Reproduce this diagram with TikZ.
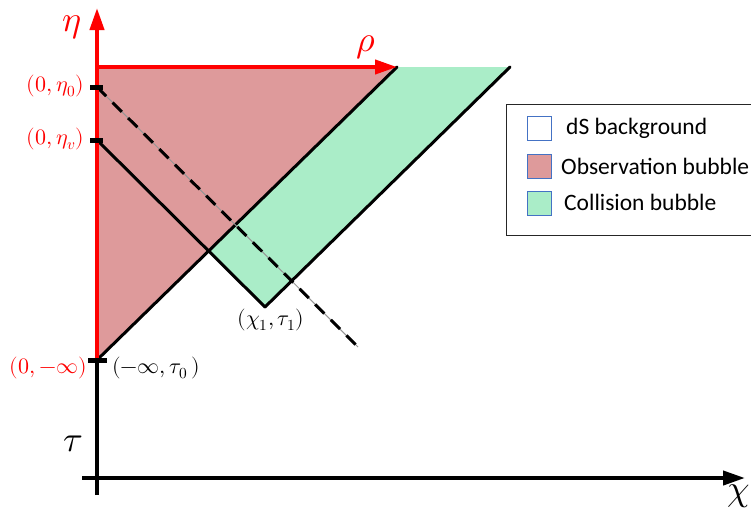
\documentclass[tikz,border=0pt]{standalone}
\usepackage{fontspec}
\usepackage{unicode-math}
\setmainfont{Carlito}
\setmathfont{Latin Modern Math}
\usetikzlibrary{arrows.meta,positioning}
\definecolor{obsred}{RGB}{222,154,155}
\definecolor{colgreen}{RGB}{170,237,200}
\definecolor{keyblue}{RGB}{68,114,196}
\definecolor{raygray}{RGB}{150,150,150}
\tikzset{
  axisarrow/.style={line width=4pt, -{Triangle[length=22pt,width=14pt]}},
  axisline/.style={line width=4pt},
  worldline/.style={line width=3pt, line cap=round},
  nullray/.style={line width=3pt, dash pattern=on 13pt off 9pt},
  tickbar/.style={line width=5pt},
  keybox/.style={draw=keyblue, line width=0.8pt, minimum size=24pt, inner sep=0pt},
  keytext/.style={anchor=west, inner sep=0pt, font=\fontsize{23.5}{27}\selectfont},
  ptlabel/.style={inner sep=0pt, font=\fontsize{22}{26}\selectfont},
  axislabel/.style={inner sep=0pt, font=\fontsize{36}{40}\selectfont}
}
\begin{document}
\begin{tikzpicture}[x=1pt,y=-1pt]
\useasboundingbox (0,0) rectangle (751,512);
% points on the diagram
\coordinate (tauFoot) at (97,495);
\coordinate (minusInf) at (97,360);
\coordinate (etaTop) at (97,8);
\coordinate (etaCorner) at (97,67);
\coordinate (etaZero) at (97,87);
\coordinate (etaV) at (97,140);
\coordinate (rhoTip) at (397,67);
\coordinate (farEdge) at (510,67);
\coordinate (collide) at (265,307);
\coordinate (dashEnd) at (358,347);
\coordinate (chiStart) at (82,478);
\coordinate (chiTip) at (745,478);
\coordinate (crossPt) at (intersection of minusInf--rhoTip and etaV--collide);
% bubbles
\fill[obsred] (minusInf) -- (etaCorner) -- (rhoTip) -- cycle;
\fill[colgreen] (crossPt) -- (rhoTip) -- (farEdge) -- (collide) -- cycle;
% light rays
\draw[worldline] (minusInf) -- (rhoTip);
\draw[worldline] (collide) -- (farEdge);
\draw[worldline] (etaV) -- (collide);
\draw[raygray, line width=1pt] (etaZero) -- (dashEnd);
\draw[nullray] (etaZero) -- (dashEnd);
% axes
\draw[axisline] (tauFoot) -- (minusInf);
\draw[axisarrow] (chiStart) -- (chiTip);
\draw[axisarrow, red] (minusInf) -- (etaTop);
\draw[axisarrow, red] (etaCorner) -- (rhoTip);
\draw[tickbar] ([xshift=-7pt]etaZero) -- ([xshift=6pt]etaZero);
\draw[tickbar] ([xshift=-7pt]etaV) -- ([xshift=6pt]etaV);
\draw[tickbar] ([xshift=-9pt]minusInf) -- ([xshift=10pt]minusInf);
% labels
\node[axislabel, red] (etaLabel) at (72,27) {$\eta$};
\node[axislabel] (tauLabel) at (73,444) {$\tau$};
\node[axislabel, red] (rhoLabel) at (366,47) {$\rho$};
\node[axislabel] (chiLabel) at (739,496) {$\chi$};
\node[ptlabel, red, anchor=east] (etaZeroLabel) at (84,86) {$(0,\eta_0)$};
\node[ptlabel, red, anchor=east] (etaVLabel) at (84,139) {$(0,\eta_v)$};
\node[ptlabel, red, anchor=east] (minusInfLabel) at (87,368) {$(0,-\infty)$};
\node[ptlabel, anchor=west] (tauZeroLabel) at (112,368) {$(-\infty,\tau_0\,)$};
\node[ptlabel] (collideLabel) at (271,320) {$(\chi_1,\tau_1)$};
% legend
\draw[line width=1pt, black!85] (506,104) rectangle (760,235);
\node[keybox, fill=white] (keyDS) at (539,128) {};
\node[keybox, fill=obsred] (keyObs) at (539,166) {};
\node[keybox, fill=colgreen] (keyCol) at (539,203) {};
\node[keytext] (textDS) at (566,128) {dS background};
\node[keytext] (textObs) at (561,166) {Observation bubble};
\node[keytext] (textCol) at (564,202) {Collision bubble};
\end{tikzpicture}
\end{document}
